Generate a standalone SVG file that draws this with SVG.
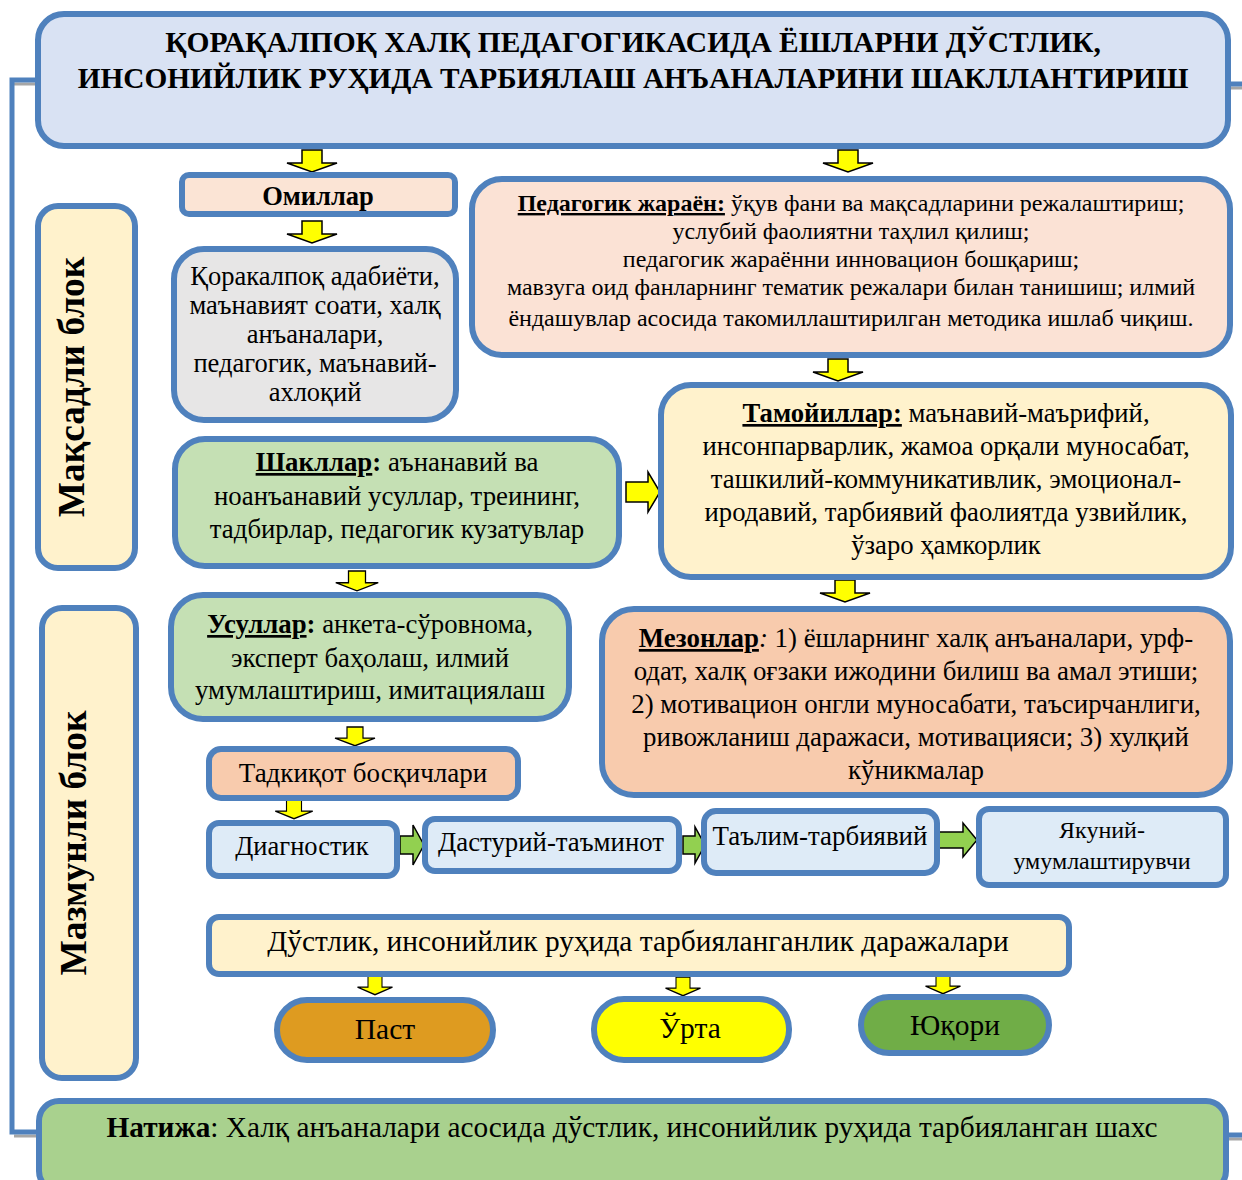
<svg xmlns="http://www.w3.org/2000/svg" width="1242" height="1180" viewBox="0 0 1242 1180">
<style>
.bx{stroke:#4F81BD;stroke-width:6}
text{font-family:"Liberation Serif","Times New Roman",serif;fill:#000}
.c{text-anchor:middle}
.bd{font-weight:bold}
.u{text-decoration:underline}
.ya{fill:#FFFF00;stroke:#000;stroke-width:1.5}
.ga{fill:#92D050;stroke:#000;stroke-width:1.5}
.ln{fill:none;stroke:#4F81BD;stroke-width:5}
.sh{fill:none;stroke:#A6A6A6;stroke-width:3}
</style>
<defs>
<path id="dn" d="M-10,0H10V13H25L0,22L-25,13H-10Z"/>
</defs>

<g id="connectors">
<path class="sh" d="M14,84 H38 M14,1136 H38 M1228,88 H1242 M1228,1139 H1242"/>
<path class="ln" d="M38,80 H12 V1132 H38"/>
<path class="ln" d="M1226,84 H1242 M1226,1135 H1242"/>
<use href="#dn" class="ya" transform="translate(312,150)"/>
<use href="#dn" class="ya" transform="translate(848,150)"/>
<use href="#dn" class="ya" transform="translate(312,221)"/>
<use href="#dn" class="ya" transform="translate(838,359)"/>
<use href="#dn" class="ya" transform="translate(845,580)"/>
<use href="#dn" class="ya" transform="translate(357,571) scale(0.85,0.9)"/>
<use href="#dn" class="ya" transform="translate(355,727) scale(0.8,0.85)"/>
<use href="#dn" class="ya" transform="translate(294,800) scale(0.75,0.85)"/>
<use href="#dn" class="ya" transform="translate(375,976) scale(0.7,0.85)"/>
<use href="#dn" class="ya" transform="translate(683,977) scale(0.7,0.85)"/>
<use href="#dn" class="ya" transform="translate(943,975) scale(0.7,0.85)"/>
<path class="ya" d="M626,482 H648 V472 L660,492 L648,512 V502 H626 Z"/>
<path class="ga" d="M400,836 H413 V825 L424,845 L413,865 V854 H400 Z"/>
<path class="ga" d="M683,836 H695 V827 L705,845 L695,863 V854 H683 Z"/>
<path class="ga" d="M938,832 H963 V823 L977,840 L963,857 V848 H938 Z"/>
</g>

<g id="title">
<rect class="bx" x="38" y="14" width="1190" height="132" rx="26" fill="#D9E2F3"/>
<text class="c bd" x="633" y="52" font-size="29.5">ҚОРАҚАЛПОҚ ХАЛҚ ПЕДАГОГИКАСИДА ЁШЛАРНИ ДЎСТЛИК,</text>
<text class="c bd" x="633" y="88" font-size="29.3">ИНСОНИЙЛИК РУҲИДА ТАРБИЯЛАШ АНЪАНАЛАРИНИ ШАКЛЛАНТИРИШ</text>
</g>

<g id="maqsadli">
<rect class="bx" x="38" y="206" width="97" height="362" rx="20" fill="#FFF2CC"/>
<text class="c bd" x="0" y="0" font-size="37.3" transform="translate(84,387) rotate(-90)">Мақсадли блок</text>
</g>

<g id="mazmunli">
<rect class="bx" x="42" y="608" width="94" height="470" rx="20" fill="#FFF2CC"/>
<text class="c bd" x="0" y="0" font-size="37.4" transform="translate(86,843) rotate(-90)">Мазмунли блок</text>
</g>

<g id="omillar">
<rect class="bx" x="182" y="175" width="273" height="39" rx="7" fill="#FBE4D5"/>
<text class="c bd" x="318" y="205" font-size="26.5">Омиллар</text>
</g>

<g id="omillar-list">
<rect class="bx" x="174" y="249" width="282" height="171" rx="30" fill="#E7E6E6"/>
<text class="c" x="315" y="285" font-size="26.5">Қоракалпоқ адабиёти,</text>
<text class="c" x="315" y="314" font-size="26.5">маънавият соати, халқ</text>
<text class="c" x="315" y="343" font-size="26.5">анъаналари,</text>
<text class="c" x="315" y="372" font-size="26.5">педагогик, маънавий-</text>
<text class="c" x="315" y="401" font-size="26.5">ахлоқий</text>
</g>

<g id="pedagogik">
<rect class="bx" x="472" y="179" width="758" height="176" rx="30" fill="#FBE2D5"/>
<text class="c" x="851" y="211" font-size="24"><tspan class="bd u">Педагогик жараён:</tspan> ўқув фани ва мақсадларини режалаштириш;</text>
<text class="c" x="851" y="239" font-size="24">услубий фаолиятни таҳлил қилиш;</text>
<text class="c" x="851" y="267" font-size="24">педагогик жараённи инновацион бошқариш;</text>
<text class="c" x="851" y="295" font-size="24">мавзуга оид фанларнинг тематик режалари билан танишиш; илмий</text>
<text class="c" x="851" y="326" font-size="24">ёндашувлар асосида такомиллаштирилган методика ишлаб чиқиш.</text>
</g>

<g id="tamoyillar">
<rect class="bx" x="661" y="385" width="570" height="192" rx="30" fill="#FFF2CC"/>
<text class="c" x="946" y="422" font-size="26.7"><tspan class="bd u">Тамойиллар:</tspan> маънавий-маърифий,</text>
<text class="c" x="946" y="455" font-size="26.7">инсонпарварлик, жамоа орқали муносабат,</text>
<text class="c" x="946" y="488" font-size="26.7">ташкилий-коммуникативлик, эмоционал-</text>
<text class="c" x="946" y="521" font-size="26.7">иродавий, тарбиявий фаолиятда узвийлик,</text>
<text class="c" x="946" y="554" font-size="26.7">ўзаро ҳамкорлик</text>
</g>

<g id="shakllar">
<rect class="bx" x="175" y="439" width="444" height="127" rx="30" fill="#C5E0B4"/>
<text class="c" x="397" y="471" font-size="26.8"><tspan class="bd u">Шакллар</tspan><tspan class="bd">:</tspan> аънанавий ва</text>
<text class="c" x="397" y="505" font-size="26.8">ноанъанавий усуллар, треининг,</text>
<text class="c" x="397" y="538" font-size="26.8">тадбирлар, педагогик кузатувлар</text>
</g>

<g id="usullar">
<rect class="bx" x="171" y="595" width="398" height="124" rx="32" fill="#C5E0B4"/>
<text class="c" x="370" y="633" font-size="26.8"><tspan class="bd u">Усуллар</tspan><tspan class="bd">:</tspan> анкета-сўровнома,</text>
<text class="c" x="370" y="667" font-size="26.8">эксперт баҳолаш, илмий</text>
<text class="c" x="370" y="699" font-size="26.8">умумлаштириш, имитациялаш</text>
</g>

<g id="mezonlar">
<rect class="bx" x="602" y="609" width="628" height="186" rx="32" fill="#F8CBAD"/>
<text class="c" x="916" y="647" font-size="26.9"><tspan class="bd u">Мезонлар</tspan><tspan font-style="italic">:</tspan> 1) ёшларнинг халқ анъаналари, урф-</text>
<text class="c" x="916" y="680" font-size="26.9">одат, халқ оғзаки ижодини билиш ва амал этиши;</text>
<text class="c" x="916" y="713" font-size="26.9">2) мотивацион онгли муносабати, таъсирчанлиги,</text>
<text class="c" x="916" y="746" font-size="26.9">ривожланиш даражаси, мотивацияси; 3) хулқий</text>
<text class="c" x="916" y="779" font-size="26.9">кўникмалар</text>
</g>

<g id="bosqichlar">
<rect class="bx" x="209" y="749" width="309" height="49" rx="12" fill="#F8CBAD"/>
<text class="c" x="363" y="782" font-size="27">Тадкиқот босқичлари</text>
</g>

<g id="diagnostik">
<rect class="bx" x="209" y="823" width="188" height="53" rx="10" fill="#DEEBF7"/>
<text class="c" x="302" y="855" font-size="26.5">Диагностик</text>
</g>

<g id="dasturiy">
<rect class="bx" x="425" y="819" width="254" height="52" rx="10" fill="#DEEBF7"/>
<text class="c" x="551" y="851" font-size="26.8">Дастурий-таъминот</text>
</g>

<g id="talim">
<rect class="bx" x="704" y="811" width="233" height="62" rx="12" fill="#DEEBF7"/>
<text class="c" x="820" y="845" font-size="26.9">Таълим-тарбиявий</text>
</g>

<g id="yakuniy">
<rect class="bx" x="979" y="809" width="247" height="76" rx="10" fill="#DEEBF7"/>
<text class="c" x="1102" y="838" font-size="24">Якуний-</text>
<text class="c" x="1102" y="869" font-size="24">умумлаштирувчи</text>
</g>

<g id="darajalar">
<rect class="bx" x="209" y="917" width="860" height="57" rx="10" fill="#FFF2CC"/>
<text class="c" x="638" y="951" font-size="29.4">Дўстлик, инсонийлик руҳида тарбияланганлик даражалари</text>
</g>

<g id="past">
<rect class="bx" x="277" y="1000" width="216" height="60" rx="30" fill="#DE9B20"/>
<text class="c" x="385" y="1039" font-size="29.5">Паст</text>
</g>

<g id="orta">
<rect class="bx" x="594" y="999" width="195" height="61" rx="30" fill="#FFFF00"/>
<text class="c" x="690" y="1038" font-size="29.5">Ўрта</text>
</g>

<g id="yuqori">
<rect class="bx" x="861" y="997" width="188" height="56" rx="28" fill="#70AD47"/>
<text class="c" x="955" y="1035" font-size="29.5">Юқори</text>
</g>

<g id="natija">
<rect class="bx" x="39" y="1101" width="1187" height="90" rx="20" fill="#A9D18E"/>
<text class="c" x="632" y="1137" font-size="29.3"><tspan class="bd">Натижа</tspan>: Халқ анъаналари асосида дўстлик, инсонийлик руҳида тарбияланган шахс</text>
</g>
</svg>
